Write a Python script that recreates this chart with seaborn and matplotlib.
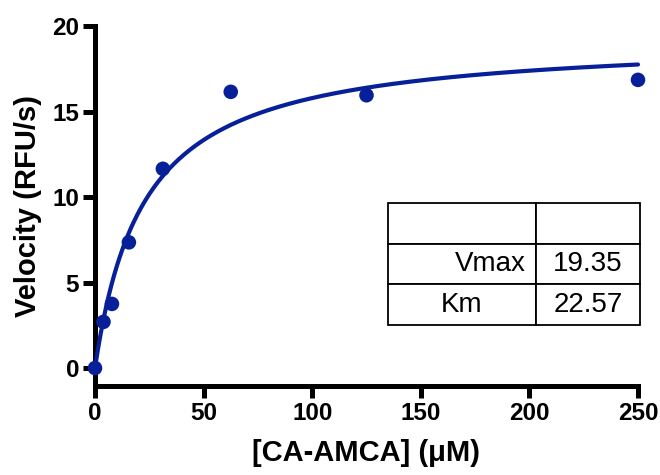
import numpy as np
import pandas as pd
import matplotlib
matplotlib.use("Agg")
import matplotlib.pyplot as plt
import seaborn as sns

# Substrate concentrations (uM) and measured initial velocities (RFU/s)
substrate = [0.0, 3.9, 7.8, 15.6, 31.25, 62.5, 125.0, 250.0]
velocity = [0.0, 2.7, 3.75, 7.35, 11.65, 16.15, 15.95, 16.85]

# Michaelis-Menten fit parameters
param_names = ["Vmax", "Km"]
param_values = [19.35, 22.57]

x_ticks = [0, 50, 100, 150, 200, 250]
y_ticks = [0, 5, 10, 15, 20]

BLUE = "#07209A"

sns.set_theme(style="ticks")
plt.rcParams["font.family"] = ["Liberation Sans", "DejaVu Sans"]
plt.rcParams["text.color"] = "black"
plt.rcParams["axes.labelcolor"] = "black"
plt.rcParams["xtick.color"] = "black"
plt.rcParams["ytick.color"] = "black"

fig = plt.figure(figsize=(6.6, 4.75), dpi=100)
ax = fig.add_axes([95 / 660, 1 - 386 / 475, (638 - 95) / 660, (386 - 26) / 475])

vmax, km = param_values
xs = np.linspace(0, 250, 400)
fit = pd.DataFrame({"S": xs, "v": vmax * xs / (km + xs)})
pts = pd.DataFrame({"S": substrate, "v": velocity})

sns.lineplot(data=fit, x="S", y="v", ax=ax, color=BLUE, linewidth=3.0,
             clip_on=False, zorder=3)
sns.scatterplot(data=pts, x="S", y="v", ax=ax, color=BLUE, s=110,
                edgecolor="none", clip_on=False, zorder=4)

ax.set_xlim(0, 250)
ax.set_ylim(-1.05, 20)
ax.set_xticks(x_ticks)
ax.set_yticks(y_ticks)
ax.set_xticklabels([str(t) for t in x_ticks])
ax.set_yticklabels([str(t) for t in y_ticks])

for side in ("top", "right"):
    ax.spines[side].set_visible(False)
for side in ("left", "bottom"):
    ax.spines[side].set_linewidth(3.6)
    ax.spines[side].set_color("black")
    ax.spines[side].set_capstyle("projecting")

ax.tick_params(axis="both", length=8.5, width=3.6, color="black",
               labelcolor="black", labelsize=17.5, pad=3)
for lbl in ax.get_xticklabels() + ax.get_yticklabels():
    lbl.set_fontweight("bold")

ax.set_xlabel("[CA-AMCA] (\u03bcM)", fontsize=21, fontweight="bold",
              color="black", labelpad=10)
ax.set_ylabel("Velocity (RFU/s)", fontsize=21, fontweight="bold",
              color="black", labelpad=7)

# Parameter table
cell_text = [["", ""]] + [[n, f"{v:.2f}"] for n, v in zip(param_names, param_values)]
x0 = (388 - 95) / (638 - 95)
x1 = (640 - 95) / (638 - 95)
y_top = (386 - 203) / (386 - 26)
y_bot = (386 - 325) / (386 - 26)
tbl = ax.table(cellText=cell_text, cellLoc="center",
               colWidths=[148 / 252, 104 / 252],
               bbox=[x0, y_bot, x1 - x0, y_top - y_bot])
tbl.auto_set_font_size(False)
tbl.set_fontsize(20)
for (r, c), cell in tbl.get_celld().items():
    cell.set_linewidth(1.3)
    cell.set_edgecolor("black")
    cell.get_text().set_fontfamily(["Liberation Sans", "DejaVu Sans"])
    cell.get_text().set_color("black")
tbl[1, 0].get_text().set_horizontalalignment("right")
tbl[1, 0].PAD = 0.07

fig.savefig("out.png", dpi=100, facecolor="white")
